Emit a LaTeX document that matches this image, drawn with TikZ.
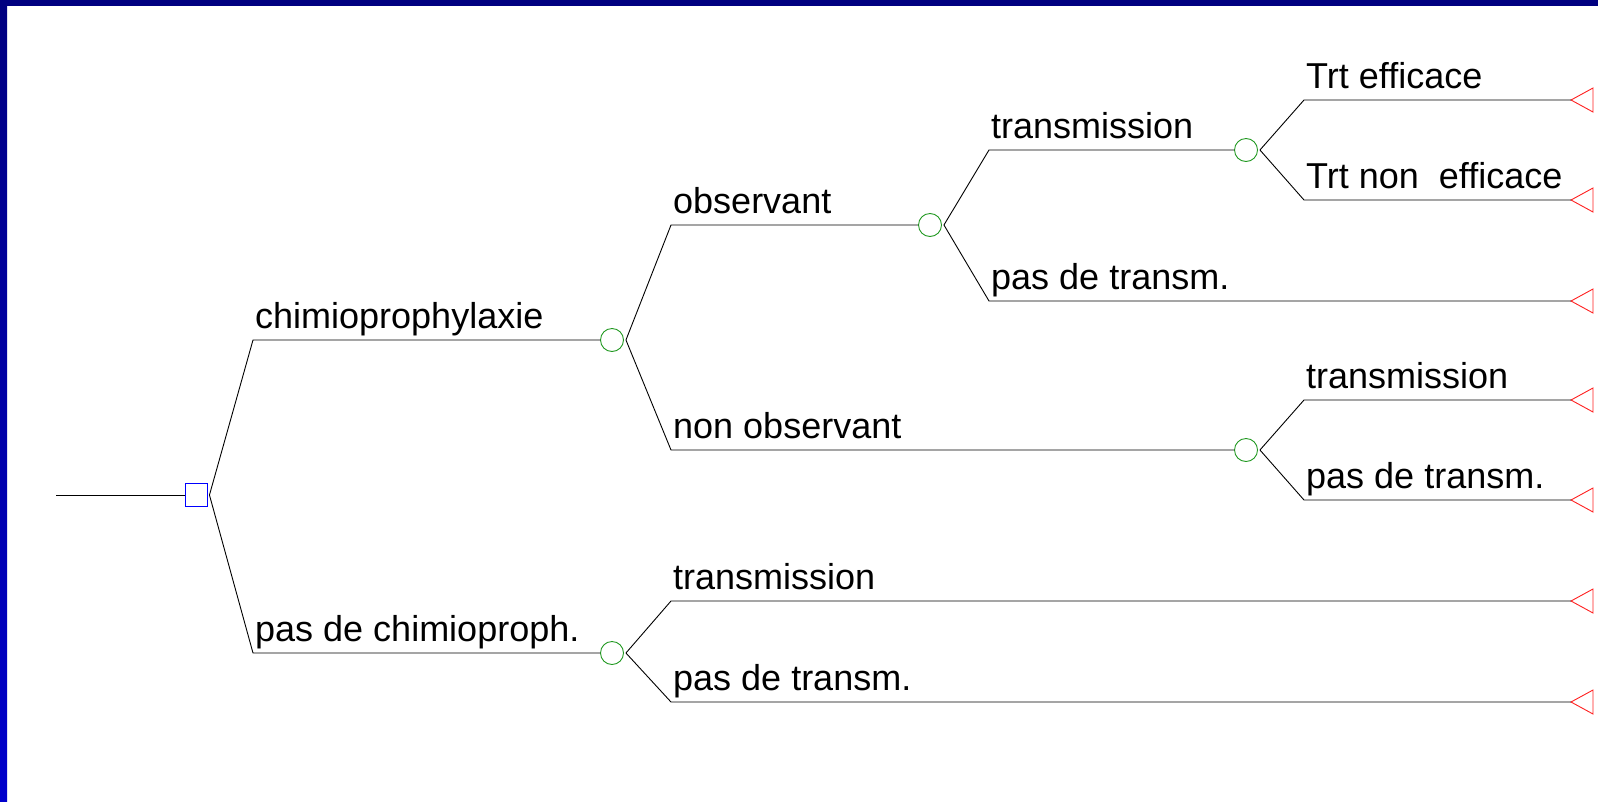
\documentclass[tikz,border=0pt]{standalone}
\usepackage{fontspec}
\setmainfont{Liberation Sans}
\definecolor{navy}{HTML}{000080}
\definecolor{brightblue}{HTML}{0000CC}
\definecolor{chancegreen}{HTML}{229922}
\definecolor{termred}{HTML}{FF2020}
\begin{document}
\begin{tikzpicture}[x=1pt,y=-1pt,
  branch/.style={black,line width=0.9pt},
  decision/.style={draw=blue,line width=0.9pt,rectangle,minimum width=22pt,minimum height=23pt,inner sep=0pt},
  chance/.style={draw=chancegreen,line width=0.9pt,circle,minimum size=23pt,inner sep=0pt},
  term/.style={draw=termred,line width=0.9pt,line join=miter},
  lbl/.style={anchor=base west,inner sep=0pt,font=\fontsize{36}{40}\selectfont}
]
\useasboundingbox (0,0) rectangle (1598,801);
\fill[white] (0,0) rectangle (1598,801);
% border
\shade[top color=navy,bottom color=brightblue] (0,0) rectangle (7,801);
\fill[navy] (0,0) rectangle (1598,6);

% nodes
\coordinate (root) at (56,495);
\node[decision] (dec) at (196,495) {};
\node[chance] (n1) at (612,340) {};
\node[chance] (n2) at (612,653) {};
\node[chance] (n3) at (930,225) {};
\node[chance] (n4) at (1246,450) {};
\node[chance] (n5) at (1246,150) {};

% branch corner points
\coordinate (c1) at (253,340);
\coordinate (c2) at (253,653);
\coordinate (c3) at (671,225);
\coordinate (c4) at (671,450);
\coordinate (c5) at (989,150);
\coordinate (c6) at (989,301);
\coordinate (c7) at (1304,100);
\coordinate (c8) at (1304,200);
\coordinate (c9) at (1304,400);
\coordinate (c10) at (1304,500);
\coordinate (c11) at (671,601);
\coordinate (c12) at (671,702);

% terminals
\coordinate (t1) at (1571,100);
\coordinate (t2) at (1571,200);
\coordinate (t3) at (1571,301);
\coordinate (t4) at (1571,400);
\coordinate (t5) at (1571,500);
\coordinate (t6) at (1571,601);
\coordinate (t7) at (1571,702);
\foreach \t in {t1,t2,t3,t4,t5,t6,t7}
  \draw[term] (\t) -- ++(22,-12) -- ++(0,24) -- cycle;

% connectors
\draw[branch] (root) -- (dec.west);
\draw[branch] ([xshift=2pt]dec.east) -- (c1) -- (n1.west);
\draw[branch] ([xshift=2pt]dec.east) -- (c2) -- (n2.west);
\draw[branch] ([xshift=2pt]n1.east) -- (c3) -- (n3.west);
\draw[branch] ([xshift=2pt]n1.east) -- (c4) -- (n4.west);
\draw[branch] ([xshift=2pt]n3.east) -- (c5) -- (n5.west);
\draw[branch] ([xshift=2pt]n3.east) -- (c6) -- (t3);
\draw[branch] ([xshift=2pt]n5.east) -- (c7) -- (t1);
\draw[branch] ([xshift=2pt]n5.east) -- (c8) -- (t2);
\draw[branch] ([xshift=2pt]n4.east) -- (c9) -- (t4);
\draw[branch] ([xshift=2pt]n4.east) -- (c10) -- (t5);
\draw[branch] ([xshift=2pt]n2.east) -- (c11) -- (t6);
\draw[branch] ([xshift=2pt]n2.east) -- (c12) -- (t7);

% labels
\node[lbl] (l1) at ([shift={(2,-12)}]c1) {chimioprophylaxie};
\node[lbl] (l2) at ([shift={(2,-12)}]c2) {pas de chimioproph.};
\node[lbl] (l3) at ([shift={(2,-12)}]c3) {observant};
\node[lbl] (l4) at ([shift={(2,-12)}]c4) {non observant};
\node[lbl] (l5) at ([shift={(2,-12)}]c5) {transmission};
\node[lbl] (l6) at ([shift={(2,-12)}]c6) {pas de transm.};
\node[lbl] (l7) at ([shift={(2,-12)}]c7) {Trt efficace};
\node[lbl] (l8) at ([shift={(2,-12)}]c8) {Trt non\ \ efficace};
\node[lbl] (l9) at ([shift={(2,-12)}]c9) {transmission};
\node[lbl] (l10) at ([shift={(2,-12)}]c10) {pas de transm.};
\node[lbl] (l11) at ([shift={(2,-12)}]c11) {transmission};
\node[lbl] (l12) at ([shift={(2,-12)}]c12) {pas de transm.};
\end{tikzpicture}
\end{document}
